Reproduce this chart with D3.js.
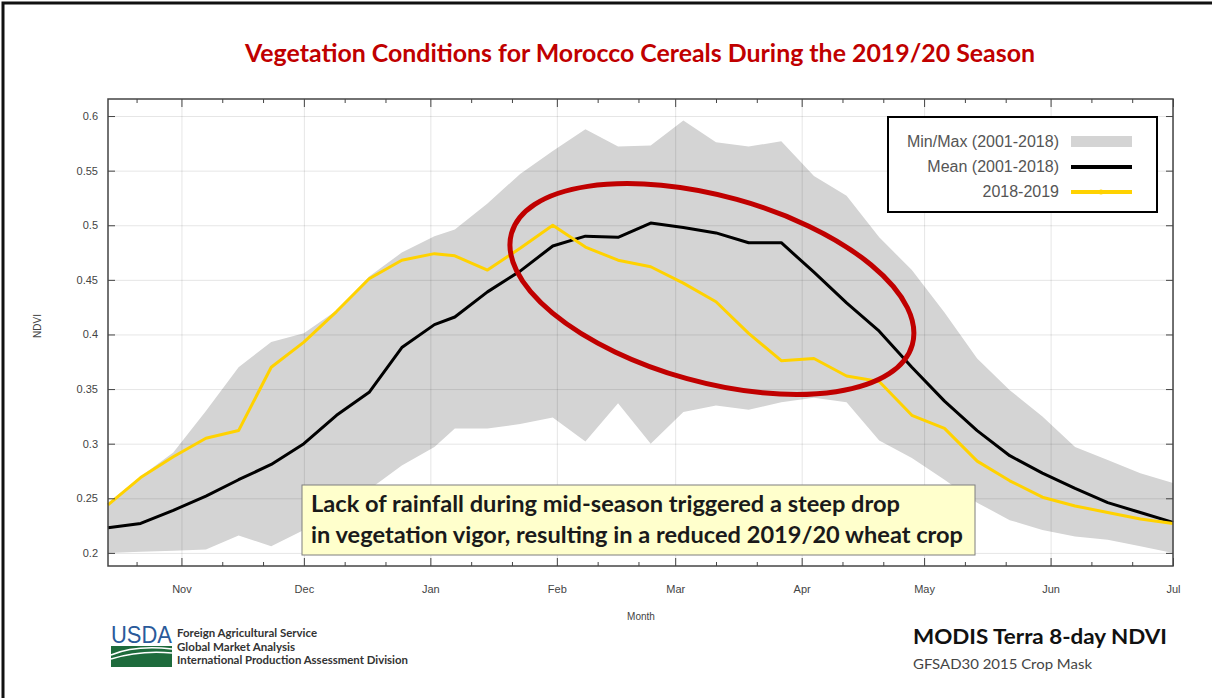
<!DOCTYPE html>
<html>
<head>
<meta charset="utf-8">
<script src="https://cdn.jsdelivr.net/npm/d3@7"></script>
<style>
  body { margin: 0; background: #fff; }
  svg { display: block; }
</style>
</head>
<body>
<svg id="chart" width="1212" height="698"></svg>
<script>
// Dates of the 8-day composites, as placed on the x axis
const dates = [
    "2019-10-14", "2019-10-22", "2019-10-30", "2019-11-07", "2019-11-15", "2019-11-23",
    "2019-12-01", "2019-12-09", "2019-12-17", "2019-12-25", "2020-01-02", "2020-01-07",
    "2020-01-15", "2020-01-23", "2020-01-31", "2020-02-08", "2020-02-16", "2020-02-24",
    "2020-03-03", "2020-03-11", "2020-03-19", "2020-03-27", "2020-04-04", "2020-04-12",
    "2020-04-20", "2020-04-28", "2020-05-06", "2020-05-14", "2020-05-22", "2020-05-30",
    "2020-06-07", "2020-06-15", "2020-06-23", "2020-07-01"
];

// Mean (2001-2018)
const meanValues = [
    0.223, 0.227, 0.239, 0.252, 0.267, 0.281, 0.300, 0.326, 0.347, 0.388, 0.409, 0.416,
    0.439, 0.458, 0.481, 0.490, 0.489, 0.502, 0.498, 0.493, 0.484, 0.484, 0.457, 0.429,
    0.403, 0.370, 0.339, 0.312, 0.289, 0.273, 0.259, 0.246, 0.237, 0.228
];

// 2018-2019 (current season)
const seasonValues = [
    0.244, 0.269, 0.288, 0.305, 0.312, 0.370, 0.393, 0.421, 0.451, 0.468, 0.474, 0.472,
    0.459, 0.479, 0.500, 0.480, 0.468, 0.462, 0.447, 0.430, 0.401, 0.376, 0.378, 0.362,
    0.357, 0.326, 0.314, 0.284, 0.266, 0.251, 0.243, 0.237, 0.231, 0.227
];

// Min / Max (2001-2018)
const minValues = [
    0.200, 0.201, 0.202, 0.203, 0.216, 0.206, 0.221, 0.238, 0.258, 0.280, 0.297, 0.314,
    0.314, 0.318, 0.324, 0.302, 0.337, 0.300, 0.329, 0.335, 0.331, 0.338, 0.342, 0.338,
    0.303, 0.287, 0.267, 0.246, 0.230, 0.221, 0.215, 0.212, 0.206, 0.200
];
const maxValues = [
    0.246, 0.270, 0.292, 0.330, 0.370, 0.393, 0.401, 0.422, 0.453, 0.475, 0.490, 0.496,
    0.520, 0.547, 0.568, 0.588, 0.572, 0.573, 0.596, 0.576, 0.572, 0.577, 0.545, 0.527,
    0.489, 0.459, 0.420, 0.378, 0.349, 0.325, 0.297, 0.285, 0.273, 0.264
];

// Axis ticks
const monthTicks = [
    "2019-11-01", "2019-12-01", "2020-01-01", "2020-02-01", "2020-03-01",
    "2020-04-01", "2020-05-01", "2020-06-01", "2020-07-01"
];
const yTicks = [0.2, 0.25, 0.3, 0.35, 0.4, 0.45, 0.5, 0.55, 0.6];

// Texts
const legendLabels = ["Min/Max (2001-2018)", "Mean (2001-2018)", "2018-2019"];
const noteLines = [
    "Lack of rainfall during mid-season triggered a steep drop",
    "in vegetation vigor, resulting in a reduced 2019/20 wheat crop"
];
const usdaLines = [
    "Foreign Agricultural Service",
    "Global Market Analysis",
    "International Production Assessment Division"
];

const parse = d3.utcParse("%Y-%m-%d");
const svg = d3.select("#chart");

// Margins and plot size
const margin = { top: 99, right: 39, bottom: 132, left: 108 };
const width = +svg.attr("width") - margin.left - margin.right;
const height = +svg.attr("height") - margin.top - margin.bottom;

const rows = dates.map((d, i) => ({
    date: parse(d),
    mean: meanValues[i],
    season: seasonValues[i],
    min: minValues[i],
    max: maxValues[i]
}));

const xScale = d3.scaleUtc()
    .domain([parse("2019-10-14"), parse("2020-07-01")])
    .range([0, width]);

const yScale = d3.scaleLinear()
    .domain([0.188, 0.6156])
    .range([height, 0]);

// Background and slide border
svg.append("rect").attr("width", 1212).attr("height", 698).attr("fill", "#fff");
svg.append("path")
    .attr("d", "M3,698 V3 H1212")
    .attr("fill", "none")
    .attr("stroke", "#111")
    .attr("stroke-width", 3);

// Title
svg.append("text")
    .attr("x", 640)
    .attr("y", 62)
    .attr("text-anchor", "middle")
    .attr("textLength", 790)
    .attr("lengthAdjust", "spacingAndGlyphs")
    .style("fill", "#C00000")
    .style("font-family", "Lato, 'Open Sans', sans-serif")
    .style("font-weight", "bold")
    .style("font-size", "24px")
    .text("Vegetation Conditions for Morocco Cereals During the 2019/20 Season");

const g = svg.append("g")
    .attr("transform", `translate(${margin.left}, ${margin.top})`);

// Min/Max band
g.append("path")
    .datum(rows)
    .attr("fill", "#d4d4d4")
    .attr("d", d3.area()
        .x(d => xScale(d.date))
        .y0(d => yScale(d.min))
        .y1(d => yScale(d.max)));

// Grid lines (drawn over the band, faint)
g.append("g")
    .call(d3.axisLeft(yScale).tickValues(yTicks).tickSize(-width).tickFormat(""))
    .call(a => a.select(".domain").remove())
    .selectAll("line")
    .attr("stroke", "#000")
    .attr("stroke-opacity", 0.1);

g.append("g")
    .attr("transform", `translate(0, ${height})`)
    .call(d3.axisBottom(xScale).tickValues(monthTicks.map(parse)).tickSize(-height).tickFormat(""))
    .call(a => a.select(".domain").remove())
    .selectAll("line")
    .attr("stroke", "#000")
    .attr("stroke-opacity", 0.1);

// Lines
g.append("path")
    .datum(rows)
    .attr("fill", "none")
    .attr("stroke", "#000")
    .attr("stroke-width", 3)
    .attr("stroke-linejoin", "round")
    .attr("d", d3.line().x(d => xScale(d.date)).y(d => yScale(d.mean)));

g.append("path")
    .datum(rows)
    .attr("fill", "none")
    .attr("stroke", "#FFD200")
    .attr("stroke-width", 3)
    .attr("stroke-linejoin", "round")
    .attr("d", d3.line().x(d => xScale(d.date)).y(d => yScale(d.season)));

// Red ellipse around the mid-season drop
const ecx = xScale(parse("2020-03-10"));
const ecy = yScale(0.4416);
g.append("ellipse")
    .attr("cx", ecx)
    .attr("cy", ecy)
    .attr("rx", 208)
    .attr("ry", 93)
    .attr("transform", `rotate(15.5, ${ecx}, ${ecy})`)
    .attr("fill", "none")
    .attr("stroke", "#C00000")
    .attr("stroke-width", 5);

// Axes (ticks pointing inside)
const minorTicks = d3.utcDays(parse("2019-10-14"), parse("2020-07-01"))
    .filter(d => d.getUTCDate() === 11 || d.getUTCDate() === 21);

const styleAxis = a => {
    a.select(".domain").remove();
    a.selectAll("line").attr("stroke", "#444");
    a.selectAll("text")
        .attr("fill", "#444")
        .style("font-family", "'Liberation Sans', Arial, sans-serif")
        .style("font-size", "11px");
};

g.append("g")
    .attr("transform", `translate(0, ${height})`)
    .call(d3.axisBottom(xScale).tickValues(monthTicks.map(parse))
        .tickSizeInner(-8).tickSizeOuter(0).tickPadding(19)
        .tickFormat(d3.utcFormat("%b")))
    .call(styleAxis);

g.append("g")
    .attr("transform", `translate(0, ${height})`)
    .call(d3.axisBottom(xScale).tickValues(minorTicks).tickSizeInner(-4).tickSizeOuter(0).tickFormat(""))
    .call(styleAxis);

g.append("g")
    .call(d3.axisTop(xScale).tickValues(monthTicks.map(parse)).tickSizeInner(-8).tickSizeOuter(0).tickFormat(""))
    .call(styleAxis);

g.append("g")
    .call(d3.axisTop(xScale).tickValues(minorTicks).tickSizeInner(-4).tickSizeOuter(0).tickFormat(""))
    .call(styleAxis);

g.append("g")
    .call(d3.axisLeft(yScale).tickValues(yTicks).tickSizeInner(-7).tickSizeOuter(0).tickPadding(10)
        .tickFormat(d => String(d)))
    .call(styleAxis);

g.append("g")
    .attr("transform", `translate(${width}, 0)`)
    .call(d3.axisRight(yScale).tickValues(yTicks).tickSizeInner(-7).tickSizeOuter(0).tickFormat(""))
    .call(styleAxis);

// Plot frame
g.append("rect")
    .attr("width", width)
    .attr("height", height)
    .attr("fill", "none")
    .attr("stroke", "#444")
    .attr("stroke-width", 1.5);

// Axis titles
svg.append("text")
    .attr("transform", "translate(41, 326) rotate(-90)")
    .attr("text-anchor", "middle")
    .style("fill", "#444")
    .style("font-family", "'Liberation Sans', Arial, sans-serif")
    .style("font-size", "10px")
    .text("NDVI");

svg.append("text")
    .attr("x", 641)
    .attr("y", 620)
    .attr("text-anchor", "middle")
    .style("fill", "#444")
    .style("font-family", "'Liberation Sans', Arial, sans-serif")
    .style("font-size", "10px")
    .text("Month");

// Note box
svg.append("rect")
    .attr("x", 302)
    .attr("y", 485)
    .attr("width", 673)
    .attr("height", 70)
    .attr("fill", "#FFFFCC")
    .attr("stroke", "#7f7f7f")
    .attr("stroke-width", 1);

svg.selectAll(".note")
    .data(noteLines)
    .enter().append("text")
    .attr("class", "note")
    .attr("x", 311)
    .attr("y", (d, i) => 512 + i * 31)
    .attr("textLength", (d, i) => i === 0 ? 589 : 652)
    .attr("lengthAdjust", "spacingAndGlyphs")
    .style("fill", "#1a1a1a")
    .style("font-family", "Lato, 'Open Sans', sans-serif")
    .style("font-weight", "bold")
    .style("font-size", "22px")
    .text(d => d);

// Legend
const legend = svg.append("g");
legend.append("rect")
    .attr("x", 888)
    .attr("y", 117)
    .attr("width", 269)
    .attr("height", 95)
    .attr("fill", "#fff")
    .attr("stroke", "#000")
    .attr("stroke-width", 2);

legend.selectAll("text")
    .data(legendLabels)
    .enter().append("text")
    .attr("x", 1059)
    .attr("y", (d, i) => 147 + i * 25)
    .attr("text-anchor", "end")
    .style("fill", "#555")
    .style("font-family", "'Liberation Sans', Arial, sans-serif")
    .style("font-size", "16px")
    .text(d => d);

legend.append("rect")
    .attr("x", 1071).attr("y", 136).attr("width", 61).attr("height", 11)
    .attr("fill", "#d4d4d4");
legend.append("line")
    .attr("x1", 1071).attr("x2", 1132).attr("y1", 167).attr("y2", 167)
    .attr("stroke", "#000").attr("stroke-width", 4);
legend.append("line")
    .attr("x1", 1071).attr("x2", 1132).attr("y1", 192).attr("y2", 192)
    .attr("stroke", "#FFD200").attr("stroke-width", 4);
legend.append("circle")
    .attr("cx", 1101).attr("cy", 192).attr("r", 2.5)
    .attr("fill", "#FFD200");

// USDA logo
svg.append("text")
    .attr("x", 111)
    .attr("y", 643)
    .attr("textLength", 61)
    .attr("lengthAdjust", "spacingAndGlyphs")
    .style("fill", "#2a5a9a")
    .style("font-family", "'Liberation Sans', Arial, sans-serif")
    .style("font-size", "23px")
    .text("USDA");

svg.append("rect")
    .attr("x", 111).attr("y", 646).attr("width", 61).attr("height", 21)
    .attr("fill", "#1e6b3c");
svg.append("path")
    .attr("d", "M111,655 Q135,645 172,649 M111,659 Q140,650 172,653")
    .attr("fill", "none")
    .attr("stroke", "#fff")
    .attr("stroke-width", 1.5);

const usdaWidths = [140, 118, 231];
svg.selectAll(".usda")
    .data(usdaLines)
    .enter().append("text")
    .attr("class", "usda")
    .attr("x", 177)
    .attr("y", (d, i) => 637 + i * 13.5)
    .attr("textLength", (d, i) => usdaWidths[i])
    .attr("lengthAdjust", "spacingAndGlyphs")
    .style("fill", "#333")
    .style("font-family", "Lato, 'Open Sans', sans-serif")
    .style("font-weight", "bold")
    .style("font-size", "11px")
    .text(d => d);

// Bottom right caption
svg.append("text")
    .attr("x", 913)
    .attr("y", 644)
    .attr("textLength", 254)
    .attr("lengthAdjust", "spacingAndGlyphs")
    .style("fill", "#111")
    .style("font-family", "Lato, 'Open Sans', sans-serif")
    .style("font-weight", "bold")
    .style("font-size", "20px")
    .text("MODIS Terra 8-day NDVI");

svg.append("text")
    .attr("x", 913)
    .attr("y", 669)
    .attr("textLength", 179)
    .attr("lengthAdjust", "spacingAndGlyphs")
    .style("fill", "#444")
    .style("font-family", "Lato, 'Open Sans', sans-serif")
    .style("font-size", "13px")
    .text("GFSAD30 2015 Crop Mask");
</script>
</body>
</html>
